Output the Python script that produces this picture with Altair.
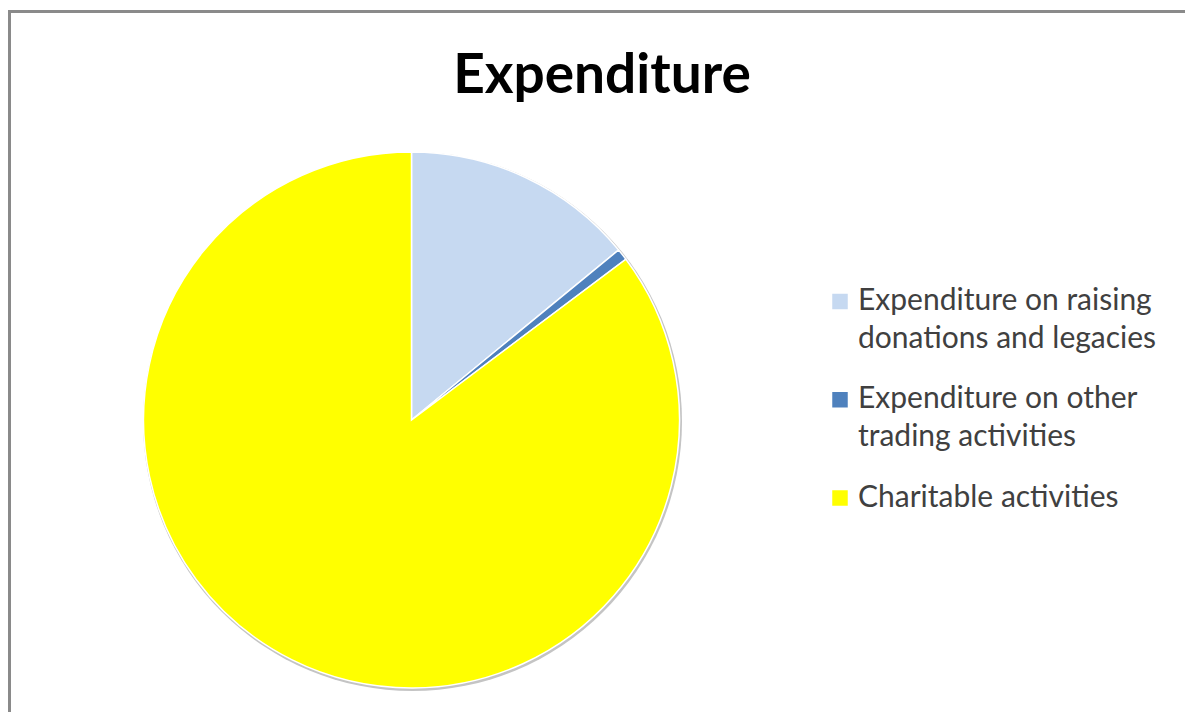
import altair as alt
import pandas as pd

title_text = "Expenditure"
categories = [
    "Expenditure on raising donations and legacies",
    "Expenditure on other trading activities",
    "Charitable activities",
]
legend_labels = [
    "Expenditure on raising\ndonations and legacies",
    "Expenditure on other\ntrading activities",
    "Charitable activities",
]
values = [14.06, 0.7, 85.24]
colors = ["#C6D9F1", "#4F81BD", "#FFFF00"]

df = pd.DataFrame({
    "category": categories,
    "label": legend_labels,
    "value": values,
    "order": list(range(len(categories))),
})
one = pd.DataFrame({"t": [title_text]})

color_scale = alt.Scale(domain=categories, range=colors)
CX, CY, R = 403.5, 412, 268

frame_top = alt.Chart(one).mark_rule(color="#8a8a8a", strokeWidth=3).encode(
    x=alt.value(0), x2=alt.value(1177), y=alt.value(3.5)
)
frame_left = alt.Chart(one).mark_rule(color="#8a8a8a", strokeWidth=3).encode(
    x=alt.value(1.5), y=alt.value(2), y2=alt.value(704)
)

shadow = alt.Chart(one).mark_arc(
    theta=0, theta2=6.2832, outerRadius=R + 1.5, color="#c4c4c4"
).encode(x=alt.value(CX + 1), y=alt.value(CY + 1.5))

pie = alt.Chart(df).mark_arc(outerRadius=R, stroke="white", strokeWidth=1.5).encode(
    theta=alt.Theta("value:Q", stack=True),
    color=alt.Color("category:N", scale=color_scale, legend=None),
    order=alt.Order("order:Q"),
    x=alt.value(CX),
    y=alt.value(CY),
)

ypos = alt.Y("order:Q", scale=alt.Scale(domain=[0, 2], range=[293.5, 490]), axis=None)

leg_sq = alt.Chart(df).mark_square(size=240, opacity=1).encode(
    x=alt.value(832),
    y=ypos,
    color=alt.Color("category:N", scale=color_scale, legend=None),
)
leg_txt = alt.Chart(df).mark_text(
    align="left", baseline="alphabetic", lineBreak="\n", lineHeight=38,
    fontSize=30, font="Lato", color="#404040", dy=8.5,
).encode(x=alt.value(850), y=ypos, text="label:N")

title = alt.Chart(one).mark_text(
    align="center", baseline="alphabetic", fontSize=55, font="Lato",
    fontWeight="bold", color="#000000",
).encode(x=alt.value(594), y=alt.value(85), text="t:N")

chart = alt.layer(frame_top, frame_left, shadow, pie, leg_sq, leg_txt, title).properties(
    width=1177, height=704, padding=0, autosize="none"
).configure_view(stroke=None)

chart.save("out.html", embed_options={"renderer": "svg", "actions": False})
